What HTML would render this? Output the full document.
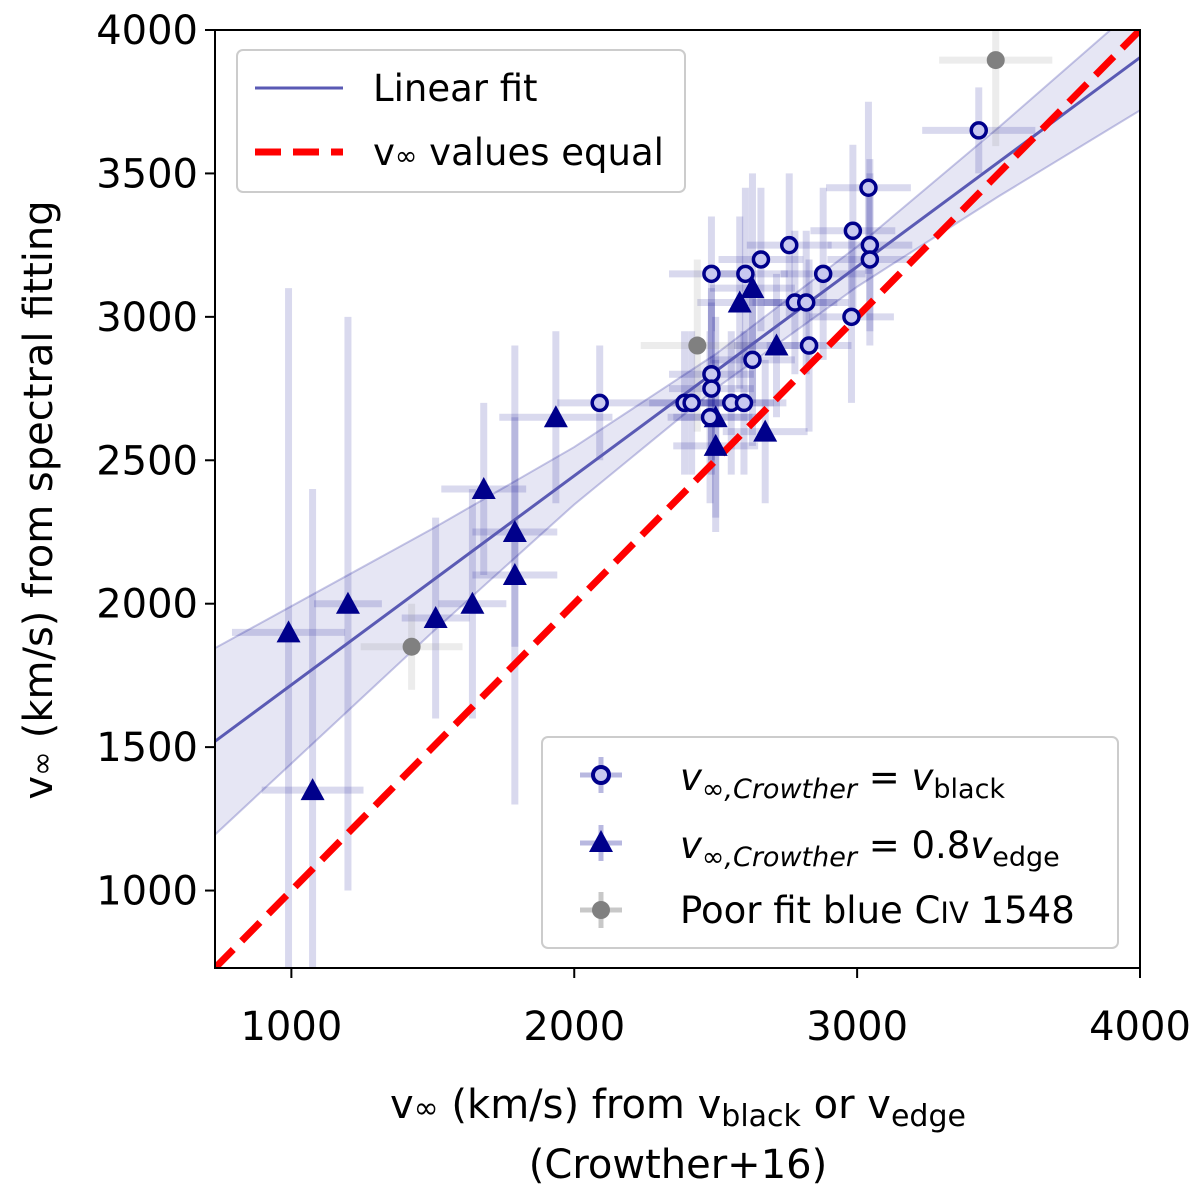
<!DOCTYPE html>
<html><head><meta charset="utf-8"><style>
html,body{margin:0;padding:0;background:#fff;}
svg{display:block;font-family:"DejaVu Sans","Liberation Sans",sans-serif;}
</style></head><body>
<svg id="chart" width="1200" height="1203" viewBox="0 0 1200 1203">
<defs><clipPath id="clip"><rect x="215" y="30" width="925" height="938"/></clipPath></defs>
<g id="band-layer" clip-path="url(#clip)"></g>
<g id="err-layer" clip-path="url(#clip)"></g>
<g id="line-layer" clip-path="url(#clip)"></g>
<g id="pt-layer" clip-path="url(#clip)"></g>
<rect x="215" y="30" width="925" height="938" fill="none" stroke="#000" stroke-width="2"/>
<g id="ticks"></g>
<text x="678" y="1118" text-anchor="middle" font-size="40">v<tspan font-size="30">∞</tspan> (km/s) from v<tspan font-size="30" dy="8">black</tspan><tspan dy="-8"> or v</tspan><tspan font-size="30" dy="8">edge</tspan></text>
<text x="678" y="1178" text-anchor="middle" font-size="40">(Crowther+16)</text>
<text transform="translate(52,500) rotate(-90)" text-anchor="middle" font-size="40">v<tspan font-size="30">∞</tspan> (km/s) from spectral fitting</text>
<g>
<rect x="237" y="50" width="448" height="142" rx="6" fill="#fff" fill-opacity="0.85" stroke="#ccc" stroke-width="2"/>
<line x1="255" y1="88" x2="343" y2="88" stroke="#5a5ab4" stroke-width="3"/>
<text x="373" y="101" font-size="37">Linear fit</text>
<line x1="255" y1="152" x2="343" y2="152" stroke="#f00" stroke-width="7" stroke-dasharray="26,12"/>
<text x="373" y="165" font-size="37">v<tspan font-size="27">∞</tspan> values equal</text>
</g>
<g>
<rect x="542" y="737" width="576" height="211" rx="6" fill="#fff" fill-opacity="0.85" stroke="#ccc" stroke-width="2"/>
<line x1="580" y1="775" x2="622" y2="775" stroke="#b8b8e0" stroke-width="5"/><line x1="601" y1="757" x2="601" y2="793" stroke="#b8b8e0" stroke-width="5"/>
<circle cx="601" cy="775" r="8" fill="#c8c8f0" stroke="#00008b" stroke-width="4"/>
<text x="680" y="790" font-size="37"><tspan font-style="italic">v</tspan><tspan font-size="27" dy="8" font-style="italic">∞,Crowther</tspan><tspan dy="-8"> = </tspan><tspan font-style="italic">v</tspan><tspan font-size="27" dy="8">black</tspan></text>
<line x1="580" y1="843" x2="622" y2="843" stroke="#b8b8e0" stroke-width="5"/><line x1="601" y1="825" x2="601" y2="861" stroke="#b8b8e0" stroke-width="5"/>
<polygon points="601,830 613,852 589,852" fill="#00008b"/>
<text x="680" y="858" font-size="37"><tspan font-style="italic">v</tspan><tspan font-size="27" dy="8" font-style="italic">∞,Crowther</tspan><tspan dy="-8"> = 0.8</tspan><tspan font-style="italic">v</tspan><tspan font-size="27" dy="8">edge</tspan></text>
<line x1="580" y1="910" x2="622" y2="910" stroke="#c8c8c8" stroke-width="5"/><line x1="601" y1="892" x2="601" y2="928" stroke="#c8c8c8" stroke-width="5"/>
<circle cx="601" cy="910" r="9" fill="#808080"/>
<text x="680" y="923" font-size="37">Poor fit blue C<tspan font-size="29">IV</tspan> 1548</text>
</g>
</svg>
<script>
const xTicks=[1000,2000,3000,4000];
const yTicks=[1000,1500,2000,2500,3000,3500,4000];
const circX=[2090,2390,2415,2485,2485,2480,2555,2600,2630,2485,2605,2660,2760,2780,2820,2880,2830,2980,2985,3040,3045,3045,3430];
const circY=[2700,2700,2700,2800,2750,2650,2700,2700,2850,3150,3150,3200,3250,3050,3050,3150,2900,3000,3300,3450,3250,3200,3650];
const circXErr=[150,150,150,150,150,150,150,150,150,150,150,150,150,150,150,150,150,150,150,150,150,150,200];
const circYErr=[200,250,250,300,300,300,250,250,300,200,300,250,250,250,250,300,300,300,300,300,300,300,150];
const triX=[990,1075,1200,1510,1640,1680,1790,1790,1935,2585,2630,2715,2500,2500,2675];
const triY=[1900,1350,2000,1950,2000,2400,2250,2100,2650,3050,3100,2900,2650,2550,2600];
const triXErr=[200,180,120,120,120,150,150,150,200,150,150,150,150,150,150];
const triYErr=[1200,1050,1000,350,400,300,400,800,300,300,400,250,350,300,250];
const greyX=[1425,2435,3490];
const greyY=[1850,2900,3895];
const greyXErr=[180,200,200];
const greyYErr=[150,300,300];
const fitSlope=0.729, fitIntercept=988;
const bandX=[730,1500,2000,2500,3000,3500,4000];
const bandUpper=[1845,2262,2546,2870,3245,3660,4090];
const bandLower=[1195,1902,2346,2750,3105,3420,3720];
const XMIN=730,XMAX=4000,YMIN=730,YMAX=4000;
const xs=v=>215+(v-XMIN)*925/(XMAX-XMIN);
const ys=v=>968-(v-YMIN)*938/(YMAX-YMIN);
const NS='http://www.w3.org/2000/svg';
function mk(tag,attrs,parent){const e=document.createElementNS(NS,tag);for(const k in attrs)e.setAttribute(k,attrs[k]);parent.appendChild(e);return e;}
const band=document.getElementById('band-layer'),err=document.getElementById('err-layer'),ln=document.getElementById('line-layer'),pt=document.getElementById('pt-layer'),tk=document.getElementById('ticks');
let d='M'+bandX.map((x,i)=>xs(x)+','+ys(bandUpper[i])).join(' L');
for(let i=bandX.length-1;i>=0;i--){d+=' L'+xs(bandX[i])+','+ys(bandLower[i]);}
d+=' Z';
const bp=mk('path',{d:d,fill:'#5a5ab4','fill-opacity':0.15,stroke:'#5a5ab4','stroke-opacity':0.35,'stroke-width':2},band);


function errs(X,Y,XE,YE,col,name){for(let i=0;i<X.length;i++){
 const h=mk('line',{x1:xs(X[i]-XE[i]),x2:xs(X[i]+XE[i]),y1:ys(Y[i]),y2:ys(Y[i]),stroke:col,'stroke-opacity':0.15,'stroke-width':7},err);
 
 
 const v=mk('line',{x1:xs(X[i]),x2:xs(X[i]),y1:ys(Y[i]-YE[i]),y2:ys(Y[i]+YE[i]),stroke:col,'stroke-opacity':0.15,'stroke-width':7},err);
 
 
}}
errs(circX,circY,circXErr,circYErr,'#00008b','circle-point');
errs(triX,triY,triXErr,triYErr,'#00008b','triangle-point');
errs(greyX,greyY,greyXErr,greyYErr,'#808080','grey-point');
const fl=mk('line',{x1:xs(XMIN),y1:ys(fitSlope*XMIN+fitIntercept),x2:xs(XMAX),y2:ys(fitSlope*XMAX+fitIntercept),stroke:'#5a5ab4','stroke-width':3},ln);


const el=mk('line',{x1:xs(XMIN),y1:ys(XMIN),x2:xs(XMAX),y2:ys(XMAX),stroke:'#f00','stroke-width':7,'stroke-dasharray':'26,12'},ln);


for(let i=0;i<greyX.length;i++){const c=mk('circle',{cx:xs(greyX[i]),cy:ys(greyY[i]),r:9,fill:'#808080'},pt);
 
 }
for(let i=0;i<triX.length;i++){const x=xs(triX[i]),y=ys(triY[i]);
 const t=mk('polygon',{points:x+','+(y-12)+' '+(x+12)+','+(y+10)+' '+(x-12)+','+(y+10),fill:'#00008b'},pt);
 
 }
for(let i=0;i<circX.length;i++){const c=mk('circle',{cx:xs(circX[i]),cy:ys(circY[i]),r:7.5,fill:'#c8c8f0',stroke:'#00008b','stroke-width':3.5},pt);
 
 }
xTicks.forEach(v=>{const x=xs(v);mk('line',{x1:x,x2:x,y1:968,y2:978,stroke:'#000','stroke-width':2},tk);
 const t=mk('text',{x:x,y:1040,'text-anchor':'middle','font-size':40},tk);t.textContent=v;
 
 });
yTicks.forEach(v=>{const y=ys(v);mk('line',{x1:205,x2:215,y1:y,y2:y,stroke:'#000','stroke-width':2},tk);
 const t=mk('text',{x:198,y:y+14,'text-anchor':'end','font-size':40},tk);t.textContent=v;
 
 });
</script>
</body></html>
